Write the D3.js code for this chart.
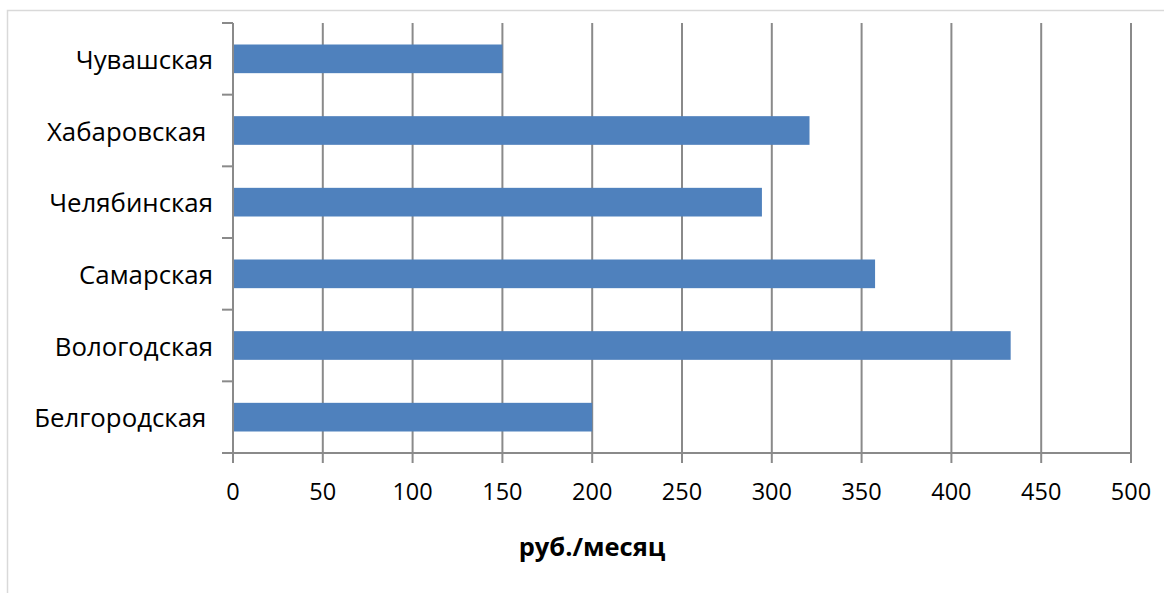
<!DOCTYPE html>
<html>
<head>
<meta charset="utf-8">
<script src="https://cdn.jsdelivr.net/npm/d3@7"></script>
<style>
body{margin:0;background:#fff;}
text{font-family:'Open Sans',sans-serif;fill:#000;}
</style>
</head>
<body>
<svg id="chart" width="1164" height="593"></svg>
<script>
'use strict'

var regions = ['Белгородская ', 'Вологодская', 'Самарская', 'Челябинская', 'Хабаровская ', 'Чувашская'];
var values = [200, 433, 357.5, 294.5, 321, 150];
var xTicks = [0, 50, 100, 150, 200, 250, 300, 350, 400, 450, 500];
var axisTitle = 'руб./месяц';

var plotLeft = 233, plotRight = 1131, plotTop = 23, plotBottom = 453;
var gridColor = '#8a8a8a';

var svg = d3.select('#chart');

// outer frame
svg.append('rect')
	.attr('x', 7.5).attr('y', 10.5)
	.attr('width', 1200).attr('height', 700)
	.attr('fill', '#fff')
	.attr('stroke', '#d9d9d9')
	.attr('stroke-width', 1.5);

var x = d3.scaleLinear().domain([0, 500]).range([plotLeft, plotRight]);
var y = d3.scaleBand().domain(regions.slice().reverse()).range([plotTop, plotBottom]).paddingInner(0.6).paddingOuter(0.3);
var yEdges = d3.scaleLinear().domain([0, regions.length]).range([plotBottom, plotTop]);

// vertical grid lines with tick marks below the axis
svg.append('g').selectAll('line').data(xTicks).enter().append('line')
	.attr('x1', function(d){ return x(d); })
	.attr('x2', function(d){ return x(d); })
	.attr('y1', plotTop)
	.attr('y2', plotBottom + 10)
	.attr('stroke', gridColor)
	.attr('stroke-width', 2);

// bars
svg.append('g').selectAll('rect').data(regions).enter().append('rect')
	.attr('x', x(0))
	.attr('y', function(d){ return y(d); })
	.attr('width', function(d, i){ return x(values[i]) - x(0); })
	.attr('height', y.bandwidth())
	.attr('fill', '#4f81bd');

// x axis line
svg.append('line')
	.attr('x1', plotLeft - 11).attr('x2', plotRight)
	.attr('y1', plotBottom).attr('y2', plotBottom)
	.attr('stroke', gridColor).attr('stroke-width', 2);

// y axis line and category ticks
svg.append('line')
	.attr('x1', plotLeft).attr('x2', plotLeft)
	.attr('y1', plotTop).attr('y2', plotBottom + 10)
	.attr('stroke', gridColor).attr('stroke-width', 2);
svg.append('g').selectAll('line').data(d3.range(regions.length + 1)).enter().append('line')
	.attr('x1', plotLeft - 11).attr('x2', plotLeft)
	.attr('y1', function(d){ return yEdges(d); })
	.attr('y2', function(d){ return yEdges(d); })
	.attr('stroke', gridColor).attr('stroke-width', 2);

// tick labels
svg.append('g').selectAll('text').data(xTicks).enter().append('text')
	.attr('x', function(d){ return x(d); })
	.attr('y', 500)
	.attr('text-anchor', 'middle')
	.style('font-size', '23.5px')
	.text(function(d){ return d; });

svg.append('g').selectAll('text').data(regions).enter().append('text')
	.attr('x', 213)
	.attr('y', function(d){ return y(d) + y.bandwidth()/2 + 10; })
	.attr('text-anchor', 'end')
	.attr('xml:space', 'preserve')
	.style('white-space', 'pre')
	.style('font-size', '25.8px')
	.text(function(d){ return d; });

svg.append('text')
	.attr('x', 592).attr('y', 556)
	.attr('text-anchor', 'middle')
	.style('font-size', '25.5px')
	.style('font-weight', 'bold')
	.text(axisTitle);
</script>
</body>
</html>
